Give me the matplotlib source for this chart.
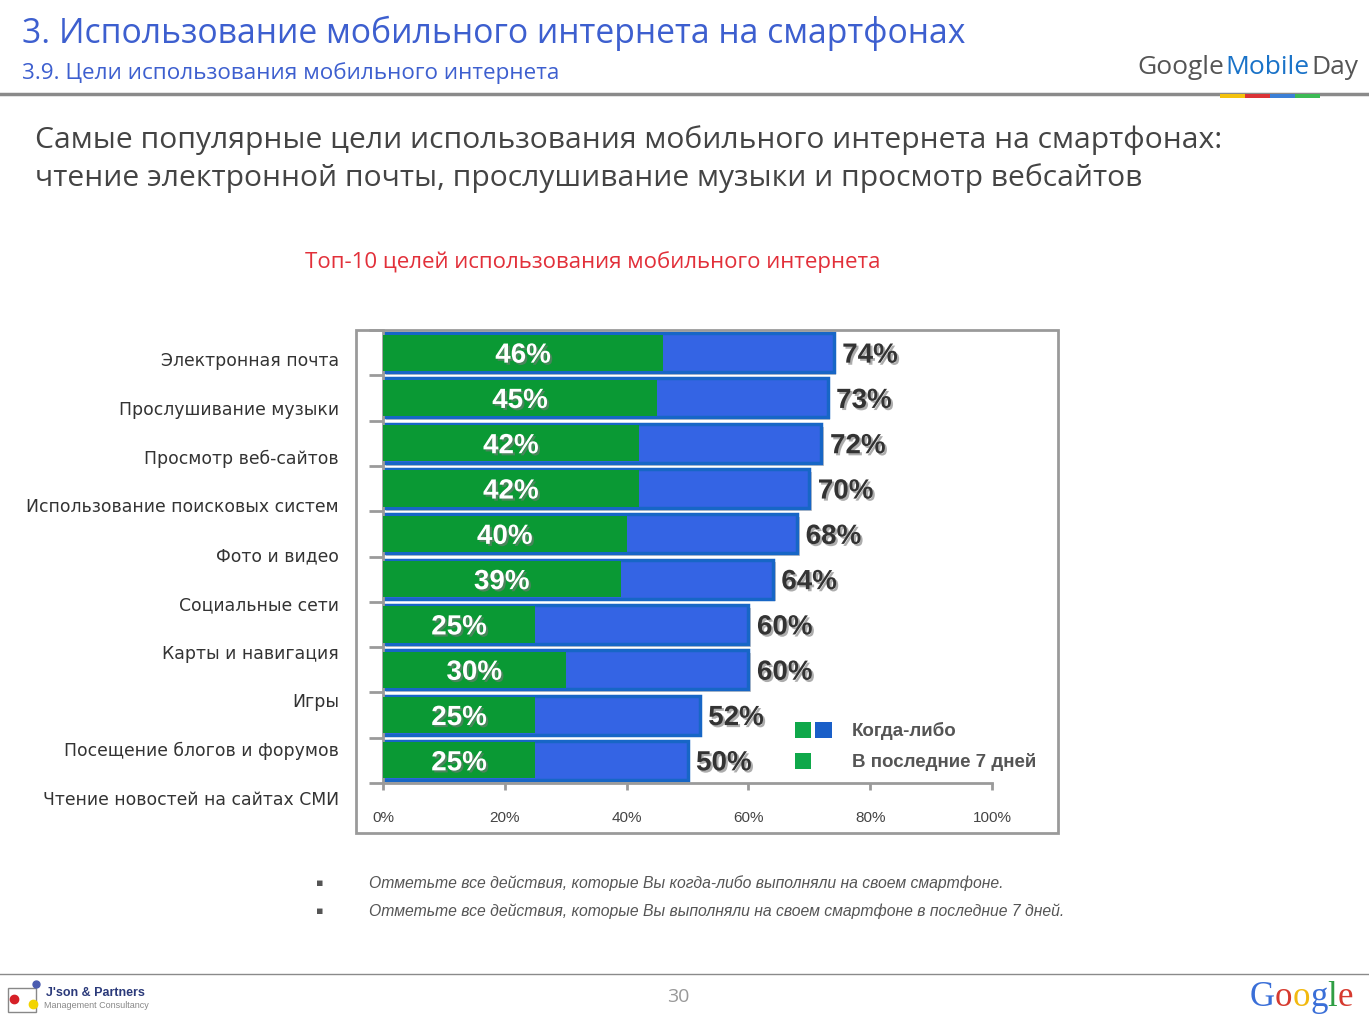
import numpy as np
import matplotlib
matplotlib.use('Agg')
import matplotlib.pyplot as plt
import matplotlib.patheffects as pe
from matplotlib.patches import Rectangle

categories = ['Электронная почта', 'Прослушивание музыки', 'Просмотр веб-сайтов',
              'Использование поисковых систем', 'Фото и видео', 'Социальные сети',
              'Карты и навигация', 'Игры', 'Посещение блогов и форумов',
              'Чтение новостей на сайтах СМИ']
ever = [74, 73, 72, 70, 68, 64, 60, 60, 52, 50]
last7 = [46, 45, 42, 42, 40, 39, 25, 30, 25, 25]
xticks = [0, 20, 40, 60, 80, 100]

W, H = 1369, 1019
fig = plt.figure(figsize=(W / 100, H / 100), dpi=100)
fig.patch.set_facecolor('white')


def fx(x):
    return x / W


def fy(y):
    return 1 - y / H


def box(x0, y0, x1, y1):
    return [fx(x0), fy(y1), fx(x1) - fx(x0), fy(y0) - fy(y1)]


blue_t = '#3d5fcf'

# header
fig.text(fx(22), fy(33), '3. Использование мобильного интернета на смартфонах',
         fontsize=24.3, family='Open Sans', color=blue_t, va='center')
fig.text(fx(22), fy(73), '3.9. Цели использования мобильного интернета',
         fontsize=16.2, family='Open Sans', color=blue_t, va='center')
t1 = fig.text(fx(1358), fy(68), 'Day', fontsize=19, family='Open Sans', color='#555555',
              va='center', ha='right')
fig.canvas.draw()
r = fig.canvas.get_renderer()
bb = t1.get_window_extent(r)
t2 = fig.text(bb.x0 / W - 0.001, fy(68), 'Mobile', fontsize=19, family='Open Sans',
              color='#1a73c8', va='center', ha='right')
bb = t2.get_window_extent(r)
fig.text(bb.x0 / W - 0.001, fy(68), 'Google', fontsize=19, family='Open Sans',
         color='#555555', va='center', ha='right')
fig.add_artist(plt.Line2D([0, 1], [fy(94), fy(94)], color='#8a8a8a', lw=2.5))
for i, c in enumerate(['#f4c20d', '#db3236', '#3b7fd6', '#3cba54']):
    fig.add_artist(Rectangle((fx(1220 + 25 * i), fy(98)), fx(25), fy(94) - fy(98),
                             color=c, lw=0, zorder=5))

fig.text(fx(35), fy(140), 'Самые популярные цели использования мобильного интернета на смартфонах:',
         fontsize=21.6, family='Open Sans', color='#444444', va='center')
fig.text(fx(35), fy(178), 'чтение электронной почты, прослушивание музыки и просмотр вебсайтов',
         fontsize=21.6, family='Open Sans', color='#444444', va='center')
fig.text(fx(593), fy(262), 'Топ-10 целей использования мобильного интернета',
         fontsize=16, family='Open Sans', color='#e2303a', va='center', ha='center')

# chart frame
fig.add_artist(Rectangle((fx(356), fy(833)), fx(1058) - fx(356), fy(330) - fy(833),
                         fill=False, edgecolor='#9a9a9a', lw=2))

ax = fig.add_axes(box(383, 330, 992, 783))
y = np.arange(len(categories))
shadow = [pe.SimplePatchShadow(offset=(2, -2), shadow_rgbFace='#888888', alpha=0.45), pe.Normal()]
bars = ax.barh(y, ever, height=0.86, color='#3464e4', edgecolor='#1766c6', lw=2.5, zorder=2)
for b in bars:
    b.set_path_effects(shadow)
ax.barh(y, last7, height=0.8, color='#0a9934', lw=0, zorder=3)

tshadow = [pe.SimplePatchShadow(offset=(1.5, -1.5), shadow_rgbFace='#777777', alpha=0.6), pe.Normal()]
for i in range(len(categories)):
    ax.text(last7[i] / 2, y[i], f'{last7[i]}%', ha='center', va='center_baseline', color='white',
            fontsize=20, fontweight='bold', family='Liberation Sans', zorder=4,
            path_effects=tshadow)
    ax.text(ever[i] + 1.4, y[i], f'{ever[i]}%', ha='left', va='center_baseline', color='#333333',
            fontsize=20, fontweight='bold', family='Liberation Sans', zorder=4,
            path_effects=tshadow)

ax.set_xlim(0, 100)
ax.set_ylim(len(categories) - 0.5, -0.5)
ax.set_xticks(xticks)
ax.set_xticklabels([f'{v}%' for v in xticks], fontsize=11, family='Liberation Sans',
                   color='#444444')
ax.set_yticks(np.arange(len(categories) + 1) - 0.5)
ax.set_yticklabels([])
ax.tick_params(axis='y', length=10, width=2, color='#9a9a9a')
ax.tick_params(axis='x', length=5, width=2, color='#9a9a9a', pad=15)
for s in ['top', 'right']:
    ax.spines[s].set_visible(False)
for s in ['left', 'bottom']:
    ax.spines[s].set_color('#9a9a9a')
    ax.spines[s].set_linewidth(2)
ax.set_facecolor('none')

# category labels (offset from bars as in the original)
lax = fig.add_axes(box(339, 334.6, 340, 822.4))
lax.set_ylim(len(categories) - 0.5, -0.5)
lax.set_yticks(y)
lax.set_yticklabels(categories, fontsize=12.4, family='DejaVu Sans', color='#333333')
lax.tick_params(axis='y', length=0, pad=0)
lax.set_xticks([])
for s in lax.spines.values():
    s.set_visible(False)
lax.set_facecolor('none')

# legend
fig.add_artist(Rectangle((fx(795), fy(738)), fx(16), fy(722) - fy(738), color='#0fa84a', lw=0))
fig.add_artist(Rectangle((fx(815), fy(738)), fx(17), fy(722) - fy(738), color='#1a5fc8', lw=0))
fig.add_artist(Rectangle((fx(795), fy(769)), fx(16), fy(753) - fy(769), color='#0fa84a', lw=0))
fig.text(fx(852), fy(731), 'Когда-либо', fontsize=13.5, fontweight='bold',
         family='Liberation Sans', color='#555555', va='center')
fig.text(fx(852), fy(762), 'В последние 7 дней', fontsize=13.5, fontweight='bold',
         family='Liberation Sans', color='#555555', va='center')

# notes
notes = ['Отметьте все действия, которые Вы когда-либо выполняли на своем смартфоне.',
         'Отметьте все действия, которые Вы выполняли на своем смартфоне в последние 7 дней.']
for i, n in enumerate(notes):
    fig.text(fx(316), fy(883 + 28 * i), '▪', fontsize=8, color='#555555', va='center')
    fig.text(fx(369), fy(883 + 28 * i), n, fontsize=11.3, style='italic',
             family='Liberation Sans', color='#555555', va='center')

# footer
fig.add_artist(plt.Line2D([0, 1], [fy(974), fy(974)], color='#8a8a8a', lw=1))
fig.text(fx(678), fy(997), '30', fontsize=14, color='#999999', va='center', ha='center',
         family='Open Sans')
fig.add_artist(Rectangle((fx(8), fy(1012)), fx(28), fy(988) - fy(1012), fill=False,
                         edgecolor='#888888', lw=1))
fig.add_artist(plt.Line2D([fx(14)], [fy(999)], marker='o', color='#d62027', ms=6))
fig.add_artist(plt.Line2D([fx(33)], [fy(1004)], marker='o', color='#f2d400', ms=6))
fig.add_artist(plt.Line2D([fx(36)], [fy(984)], marker='o', color='#4a5cb0', ms=5))
fig.text(fx(46), fy(993), "J'son & Partners", fontsize=9, fontweight='bold', color='#2b3a7a',
         va='center', family='Liberation Sans')
fig.text(fx(44), fy(1006), 'Management Consultancy', fontsize=6.5, color='#888888',
         va='center', family='Liberation Sans')
gx = 1250
for ch, c in zip('Google', ['#3a6fd8', '#d63a2f', '#f2b90f', '#3a6fd8', '#2f9e44', '#d63a2f']):
    t = fig.text(fx(gx), fy(997), ch, fontsize=25, color=c, va='center',
                 family='Liberation Serif')
    gx = t.get_window_extent(r).x1

fig.savefig('out.png', dpi=100)
